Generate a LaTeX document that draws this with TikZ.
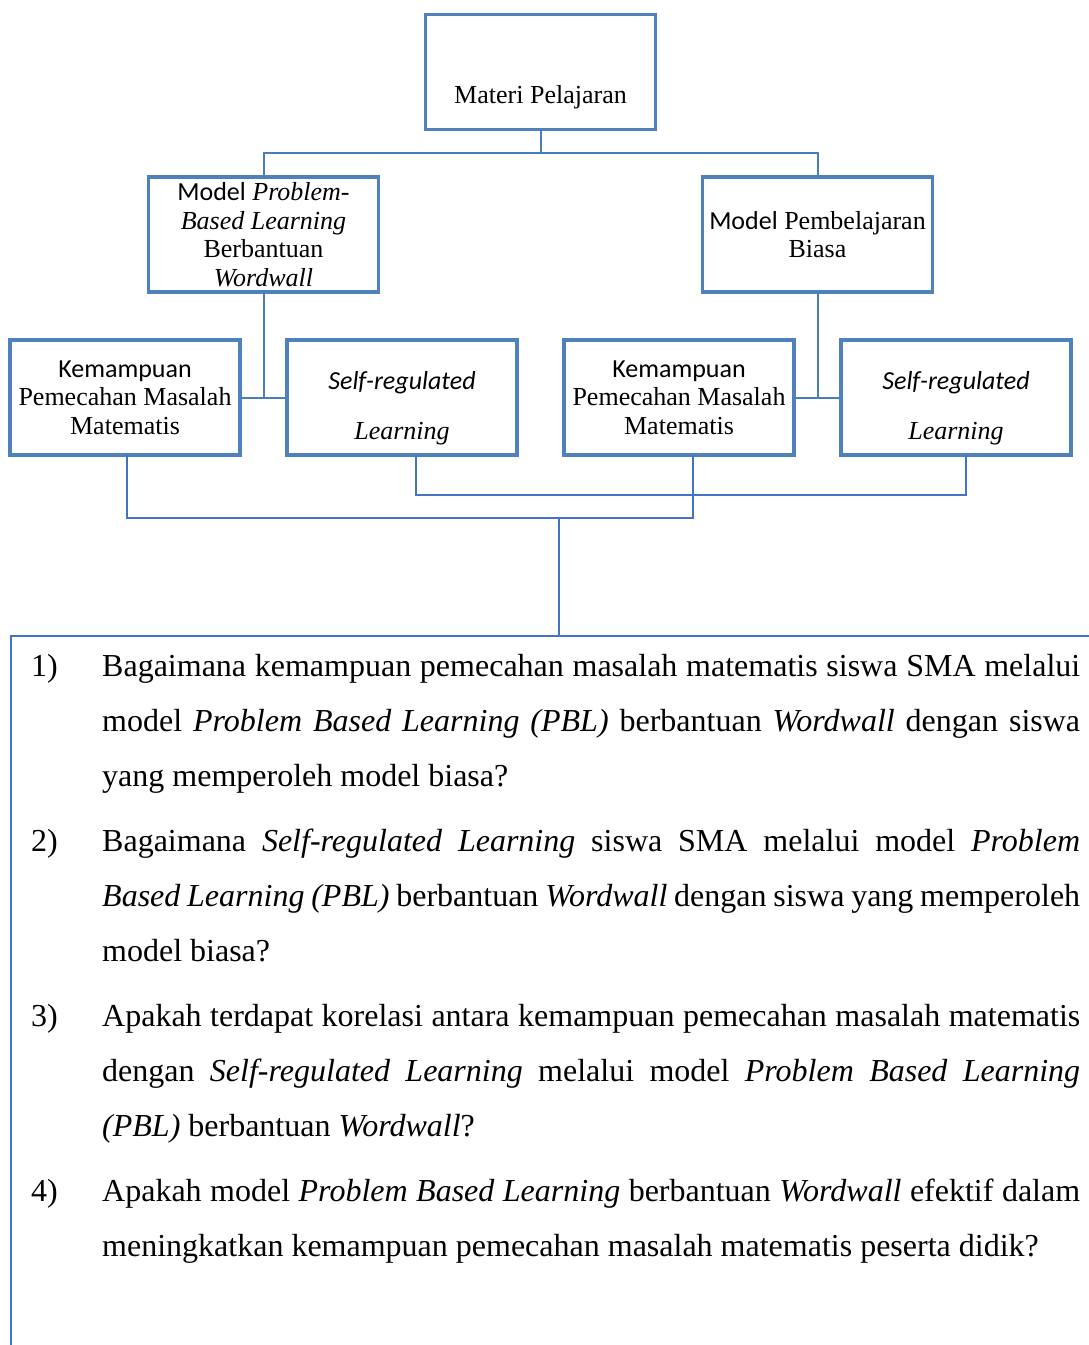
\documentclass[tikz,border=0pt]{standalone}
\usepackage{fontspec}
\setmainfont{Liberation Serif}
\newfontfamily\calibri{Carlito}
\usetikzlibrary{positioning}

\definecolor{kotakbiru}{HTML}{4F81BD}
\definecolor{garisbiru}{HTML}{4A7EBB}
\definecolor{garisbawah}{HTML}{4472C4}

\newcommand{\baris}[1]{\makebox[978pt][s]{#1}}

\tikzset{
  kotak/.style={rectangle, draw=kotakbiru, line width=3.5pt, outer sep=0pt, inner sep=0pt,
    minimum width=230pt, minimum height=115pt, align=center, font=\fontsize{26}{28.5}\selectfont},
  garis/.style={draw=garisbiru, line width=2pt},
  garisb/.style={draw=garisbawah, line width=2pt},
  nomor/.style={anchor=base west, inner sep=0pt, font=\fontsize{32}{55}\selectfont},
  soal/.style={anchor=base west, inner sep=0pt, text width=978pt, align=justify,
    font=\fontsize{32}{55}\selectfont}
}

\begin{document}
\begin{tikzpicture}[x=1pt,y=-1pt]
\useasboundingbox (0,0) rectangle (1089,1345);

% Materi
\node[kotak, text height=88pt, text depth=26pt] (materi) at (540.5,72) {Materi Pelajaran};

% Model pembelajaran
\node[kotak] (pbl) at (263.5,234.5) {{\calibri Model} \textit{Problem-}\\\textit{Based Learning}\\Berbantuan\\\textit{Wordwall}};
\node[kotak] (biasa) at (817.5,234.5) {{\calibri Model} Pembelajaran\\Biasa};

% Variabel
\node[kotak] (kpm1) at (125,397.5) {{\calibri Kemampuan}\\Pemecahan Masalah\\Matematis};
\node[kotak, right=47pt of kpm1] (srl1) {\rule{0pt}{39pt}{\calibri\itshape Self-regulated}\\[21.5pt]\textit{Learning}};
\node[kotak, right=47pt of srl1] (kpm2) {{\calibri Kemampuan}\\Pemecahan Masalah\\Matematis};
\node[kotak, right=47pt of kpm2] (srl2) {\rule{0pt}{39pt}{\calibri\itshape Self-regulated}\\[21.5pt]\textit{Learning}};

% Rumusan masalah
\node[rectangle, draw=garisbawah, line width=2pt, anchor=north west, minimum width=1097pt, minimum height=760pt] (rumusan) at (9.5,635) {};

\node[nomor] (n1) at (31,676) {1)};
\node[soal] (q1) at (102,676) {\baris{Bagaimana kemampuan pemecahan masalah matematis siswa SMA melalui}\\
  \baris{model \textit{Problem Based Learning (PBL)} berbantuan \textit{Wordwall} dengan siswa}\\
  yang memperoleh model biasa?};
\node[nomor] (n2) at (31,851) {2)};
\node[soal] (q2) at (102,851) {\baris{Bagaimana \textit{Self-regulated Learning} siswa SMA melalui model \textit{Problem}}\\
  \baris{\textit{Based Learning (PBL)} berbantuan \textit{Wordwall} dengan siswa yang memperoleh}\\
  model biasa?};
\node[nomor] (n3) at (31,1026) {3)};
\node[soal] (q3) at (102,1026) {\baris{Apakah terdapat korelasi antara kemampuan pemecahan masalah matematis}\\
  \baris{dengan \textit{Self-regulated Learning} melalui model \textit{Problem Based Learning}}\\
  \textit{(PBL)} berbantuan \textit{Wordwall}?};
\node[nomor] (n4) at (31,1201) {4)};
\node[soal] (q4) at (102,1201) {\baris{Apakah model \textit{Problem Based Learning} berbantuan \textit{Wordwall} efektif dalam}\\
  meningkatkan kemampuan pemecahan masalah matematis peserta didik?};

% Garis atas
\coordinate (cabang) at (540.5,153);
\draw[garis] (materi.south) -- (cabang);
\draw[garis] (pbl.north) |- (cabang) -| (biasa.north);
\draw[garis] (pbl.south) -- (pbl.south |- kpm1.east);
\draw[garis] (kpm1.east) -- (srl1.west);
\draw[garis] (biasa.south) -- (biasa.south |- kpm2.east);
\draw[garis] (kpm2.east) -- (srl2.west);

% Garis bawah
\draw[garisb] ([xshift=2pt]kpm1.south) -- ++(0,63) -| ([xshift=14pt]kpm2.south);
\draw[garisb] ([xshift=14pt]srl1.south) -- ++(0,40) -| ([xshift=10pt]srl2.south);
\draw[garisb] (rumusan.north) -- ++(0,-117);
\end{tikzpicture}
\end{document}
